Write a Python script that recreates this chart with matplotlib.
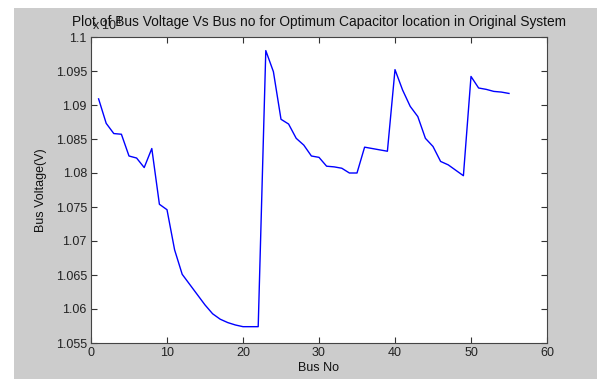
import matplotlib
matplotlib.use("Agg")
import matplotlib.pyplot as plt
from matplotlib.patches import Rectangle

bus_no = list(range(1, 56))
voltage = [1.0909, 1.0873, 1.0858, 1.0857, 1.0825, 1.0822, 1.0808, 1.0836, 1.0754, 1.0746,
           1.0687, 1.0651, 1.0636, 1.0621, 1.0606, 1.0593, 1.0585, 1.0580, 1.05765, 1.0574,
           1.0574, 1.0574, 1.0980, 1.0949, 1.0879, 1.0872, 1.0851, 1.0841, 1.0825, 1.0823,
           1.0810, 1.0809, 1.0807, 1.0800, 1.0800, 1.0838, 1.0836, 1.0834, 1.0832, 1.0952,
           1.0922, 1.0898, 1.0883, 1.0851, 1.0839, 1.0817, 1.0812, 1.0804, 1.0796, 1.0942,
           1.0925, 1.0923, 1.0920, 1.0919, 1.0917]
xticks = [0, 10, 20, 30, 40, 50, 60]
yticks = [1.055, 1.06, 1.065, 1.07, 1.075, 1.08, 1.085, 1.09, 1.095, 1.1]
ytick_labels = ["1.055", "1.06", "1.065", "1.07", "1.075", "1.08", "1.085", "1.09", "1.095", "1.1"]

plt.rcParams['font.family'] = ['Liberation Sans', 'DejaVu Sans']
W, H = 597, 379
fig = plt.figure(figsize=(W / 100, H / 100), dpi=100, facecolor='white')
bg = Rectangle((14 / W, 0), 1 - 14 / W, (H - 8) / H, transform=fig.transFigure,
               facecolor='#cccccc', edgecolor='none', zorder=-10)
fig.add_artist(bg)

ax = fig.add_axes([91 / W, (H - 343) / H, (547 - 91) / W, (343 - 37) / H])
ax.set_zorder(1)
ax.set_facecolor('white')
ax.plot(bus_no, voltage, color='#0000ff', linewidth=1.0)
ax.set_xlim(0, 60)
ax.set_ylim(1.055, 1.1)
ax.set_xticks(xticks)
ax.set_xticklabels([str(t) for t in xticks])
ax.set_yticks(yticks)
ax.set_yticklabels(ytick_labels)
ax.tick_params(direction='in', length=4, width=0.8, top=True, right=True,
               labelsize=9, colors='#333333', labelcolor='#222222', pad=3)
for s in ax.spines.values():
    s.set_color('#444444')
    s.set_linewidth(0.8)

ax.set_title('Plot of Bus Voltage Vs Bus no for Optimum Capacitor location in Original System',
             fontsize=9.9, color='#111111', pad=8)
ax.set_xlabel('Bus No', fontsize=9, color='#111111', labelpad=2)
ax.set_ylabel('Bus Voltage(V)', fontsize=9, color='#111111', labelpad=6)
ax.text(0.002, 1.012, r'x 10$^4$', transform=ax.transAxes, fontsize=9,
        color='#222222', va='bottom', ha='left')

fig.savefig('out.png', dpi=100, facecolor='white')
